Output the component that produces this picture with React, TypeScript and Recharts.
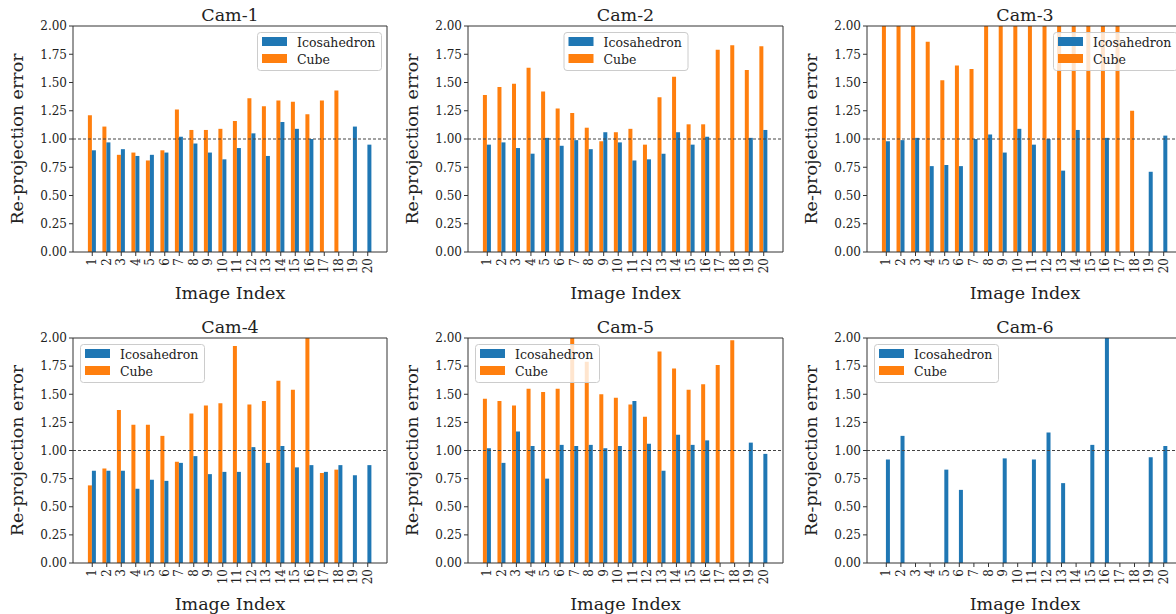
import { BarChart, Bar, XAxis, YAxis, ReferenceLine } from 'recharts'

const imageIndex = ['1', '2', '3', '4', '5', '6', '7', '8', '9', '10', '11', '12', '13', '14', '15', '16', '17', '18', '19', '20']
const yTicks = [0, 0.25, 0.5, 0.75, 1, 1.25, 1.5, 1.75, 2]
const seriesNames = ['Icosahedron', 'Cube']

// bars that run off the top of the axis; their real height can't be read
const OVER = 2.2

const cam1Ico = [0.90, 0.97, 0.91, 0.85, 0.86, 0.88, 1.02, 0.96, 0.88, 0.82, 0.92, 1.05, 0.85, 1.15, 1.09, 1.00, null, null, 1.11, 0.95]
const cam1Cube = [1.21, 1.11, 0.86, 0.88, 0.81, 0.90, 1.26, 1.08, 1.08, 1.09, 1.16, 1.36, 1.29, 1.34, 1.33, 1.22, 1.34, 1.43, null, null]

const cam2Ico = [0.95, 0.97, 0.92, 0.87, 1.01, 0.94, 0.99, 0.91, 1.06, 0.97, 0.81, 0.82, 0.87, 1.06, 0.95, 1.02, null, null, 1.01, 1.08]
const cam2Cube = [1.39, 1.46, 1.49, 1.63, 1.42, 1.27, 1.23, 1.10, 0.98, 1.06, 1.09, 0.95, 1.37, 1.55, 1.13, 1.13, 1.79, 1.83, 1.61, 1.82]

const cam3Ico = [0.98, 0.99, 1.01, 0.76, 0.77, 0.76, 1.00, 1.04, 0.88, 1.09, 0.95, 1.00, 0.72, 1.08, null, 1.01, null, null, 0.71, 1.03]
const cam3Cube = [OVER, OVER, OVER, 1.86, 1.52, 1.65, 1.62, OVER, OVER, OVER, OVER, OVER, OVER, OVER, OVER, OVER, OVER, 1.25, null, null]

const cam4Ico = [0.82, 0.82, 0.82, 0.66, 0.74, 0.73, 0.89, 0.95, 0.79, 0.81, 0.81, 1.03, 0.89, 1.04, 0.85, 0.87, 0.81, 0.87, 0.78, 0.87]
const cam4Cube = [0.69, 0.84, 1.36, 1.23, 1.23, 1.13, 0.90, 1.33, 1.40, 1.42, 1.93, 1.41, 1.44, 1.62, 1.54, OVER, 0.80, 0.83, null, null]

const cam5Ico = [1.02, 0.89, 1.17, 1.04, 0.75, 1.05, 1.04, 1.05, 1.02, 1.04, 1.44, 1.06, 0.82, 1.14, 1.05, 1.09, null, null, 1.07, 0.97]
const cam5Cube = [1.46, 1.44, 1.40, 1.55, 1.52, 1.55, OVER, 1.79, 1.50, 1.47, 1.41, 1.30, 1.88, 1.73, 1.54, 1.59, 1.76, 1.98, null, null]

const cam6Ico = [0.92, 1.13, null, null, 0.83, 0.65, null, null, 0.93, null, 0.92, 1.16, 0.71, null, 1.05, OVER, null, null, 0.94, 1.04]
const cam6Cube = [null, null, null, null, null, null, null, null, null, null, null, null, null, null, null, null, null, null, null, null]

const BLUE = '#1f77b4'
const ORANGE = '#ff7f0e'
const INK = '#222'
const FONT = '"DejaVu Serif", serif'

type Series = (number | null)[]
type Panel = {
  title: string
  ico: Series
  cube: Series
  left: number
  top: number
  w: number
  h: number
  legend: 'left' | 'center' | 'right'
}

const panels: Panel[] = [
  { title: 'Cam-1', ico: cam1Ico, cube: cam1Cube, left: 73, top: 26, w: 314, h: 226, legend: 'right' },
  { title: 'Cam-2', ico: cam2Ico, cube: cam2Cube, left: 468, top: 26, w: 315, h: 226, legend: 'center' },
  { title: 'Cam-3', ico: cam3Ico, cube: cam3Cube, left: 867, top: 26, w: 316, h: 226, legend: 'right' },
  { title: 'Cam-4', ico: cam4Ico, cube: cam4Cube, left: 73, top: 338, w: 314, h: 225, legend: 'left' },
  { title: 'Cam-5', ico: cam5Ico, cube: cam5Cube, left: 468, top: 338, w: 315, h: 225, legend: 'left' },
  { title: 'Cam-6', ico: cam6Ico, cube: cam6Cube, left: 867, top: 338, w: 316, h: 225, legend: 'left' },
]

const PAD_L = 60
const PAD_T = 30
const PAD_R = 10
const AXIS_H = 45

function XTick(props: any) {
  const { x, y, payload } = props
  return (
    <text
      x={x}
      y={y}
      transform={`rotate(-90 ${x} ${y})`}
      textAnchor="end"
      dominantBaseline="central"
      fontSize={12}
      fontFamily={FONT}
      fill={INK}
    >
      {payload.value}
    </text>
  )
}

function CamChart({ p }: { p: Panel }) {
  const data = imageIndex.map((idx, i) => ({ idx, ico: p.ico[i], cube: p.cube[i] }))
  return (
    <div style={{ position: 'absolute', left: p.left - PAD_L, top: p.top - PAD_T }}>
      <BarChart
        width={p.w + PAD_L + PAD_R}
        height={p.h + PAD_T + AXIS_H}
        data={data}
        margin={{ top: PAD_T, right: PAD_R, bottom: 0, left: 0 }}
        barCategoryGap="20%"
        barGap={0}
      >
        <XAxis
          dataKey="idx"
          height={AXIS_H}
          interval={0}
          tick={<XTick />}
          tickSize={4}
          tickMargin={2}
          padding={{ left: 12, right: 12 }}
          axisLine={{ stroke: '#333' }}
          tickLine={{ stroke: '#333' }}
        />
        <XAxis xAxisId="top" dataKey="idx" orientation="top" mirror tick={false} tickLine={false} axisLine={{ stroke: '#333' }} />
        <YAxis
          width={PAD_L}
          domain={[0, 2]}
          ticks={yTicks}
          allowDataOverflow
          tickFormatter={(v: number) => v.toFixed(2)}
          tick={{ fontSize: 12, fontFamily: FONT, fill: INK }}
          tickSize={4}
          tickMargin={2}
          axisLine={{ stroke: '#333' }}
          tickLine={{ stroke: '#333' }}
        />
        <YAxis yAxisId="right" orientation="right" mirror domain={[0, 2]} tick={false} tickLine={false} axisLine={{ stroke: '#333' }} />
        <ReferenceLine y={1} stroke="#444" strokeDasharray="3 2" />
        <Bar dataKey="cube" name={seriesNames[1]} fill={ORANGE} isAnimationActive={false} />
        <Bar dataKey="ico" name={seriesNames[0]} fill={BLUE} isAnimationActive={false} />
      </BarChart>
    </div>
  )
}

function LegendBox({ p }: { p: Panel }) {
  const bw = 124
  const x = p.legend === 'right' ? p.left + p.w - 6 - bw : p.legend === 'center' ? p.left + p.w / 2 - bw / 2 : p.left + 7
  const y = p.top + 6
  return (
    <g>
      <rect x={x + 0.5} y={y + 0.5} width={bw} height={38} rx={3} fill="#fff" fillOpacity={0.8} stroke="#ccc" />
      <rect x={x + 5} y={y + 5} width={25} height={9} fill={BLUE} />
      <text x={x + 40} y={y + 14.5} fontSize={12.5} fill={INK}>{seriesNames[0]}</text>
      <rect x={x + 5} y={y + 22} width={25} height={9} fill={ORANGE} />
      <text x={x + 40} y={y + 31.5} fontSize={12.5} fill={INK}>{seriesNames[1]}</text>
    </g>
  )
}

function Labels({ p }: { p: Panel }) {
  const cx = p.left + p.w / 2
  const cy = p.top + p.h / 2
  const lx = p.left - 56
  return (
    <g fill={INK}>
      <text x={cx} y={p.top - 5} textAnchor="middle" fontSize={17.5}>{p.title}</text>
      <text x={cx} y={p.top + p.h + 47} textAnchor="middle" fontSize={17.5}>Image Index</text>
      <text x={lx} y={cy} transform={`rotate(-90 ${lx} ${cy})`} textAnchor="middle" dominantBaseline="central" fontSize={17.5}>
        Re-projection error
      </text>
    </g>
  )
}

export default function App() {
  return (
    <div
      style={{
        position: 'absolute',
        left: 0,
        top: 0,
        width: 1176,
        height: 614,
        overflow: 'hidden',
        background: '#fff',
        fontFamily: FONT,
      }}
    >
      {panels.map((p) => (
        <CamChart key={p.title} p={p} />
      ))}
      <svg width={1176} height={614} style={{ position: 'absolute', left: 0, top: 0, pointerEvents: 'none' }} fontFamily={FONT}>
        {panels.map((p) => (
          <g key={p.title}>
            <Labels p={p} />
            <LegendBox p={p} />
          </g>
        ))}
      </svg>
    </div>
  )
}
